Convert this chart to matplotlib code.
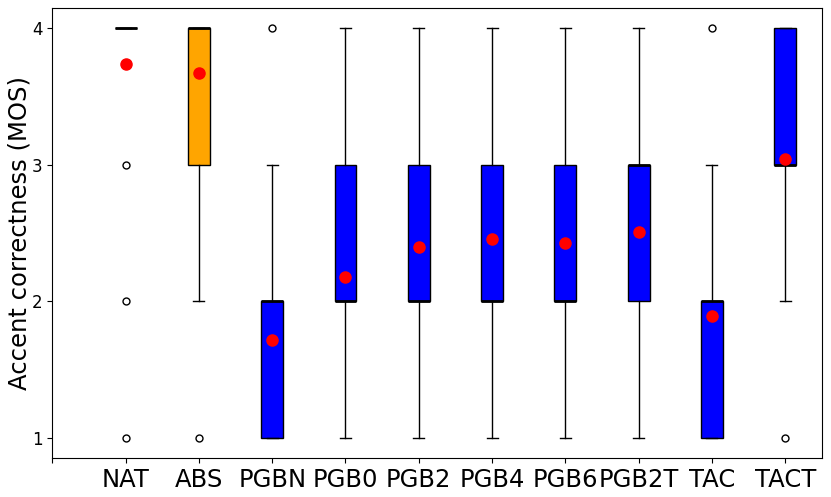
import numpy as np
import matplotlib
matplotlib.use('Agg')
import matplotlib.pyplot as plt

# systems and box statistics (MOS, 1-4 scale)
systems = ['NAT', 'ABS', 'PGBN', 'PGB0', 'PGB2', 'PGB4', 'PGB6', 'PGB2T', 'TAC', 'TACT']
q1 = [4, 3, 1, 2, 2, 2, 2, 2, 1, 3]
medians = [4, 4, 2, 2, 2, 2, 2, 3, 2, 3]
q3 = [4, 4, 2, 3, 3, 3, 3, 3, 2, 4]
whislo = [4, 2, 1, 1, 1, 1, 1, 1, 1, 2]
whishi = [4, 4, 3, 4, 4, 4, 4, 4, 3, 4]
fliers = [[1, 2, 3], [1], [4], [], [], [], [], [], [4], [1]]
means = [3.74, 3.67, 1.72, 2.18, 2.40, 2.46, 2.43, 2.51, 1.89, 3.04]
colors = ['blue', 'orange', 'blue', 'blue', 'blue', 'blue', 'blue', 'blue', 'blue', 'blue']

stats = []
for i in range(len(systems)):
    stats.append({'med': medians[i], 'q1': q1[i], 'q3': q3[i],
                  'whislo': whislo[i], 'whishi': whishi[i],
                  'fliers': fliers[i], 'mean': means[i], 'label': systems[i]})

fig, ax = plt.subplots(figsize=(8.31, 4.97), dpi=100)
fig.subplots_adjust(left=0.063, right=0.989, top=0.984, bottom=0.078)

bp = ax.bxp(stats, positions=range(1, len(systems) + 1), widths=0.3,
            patch_artist=True, showmeans=True,
            medianprops=dict(color='black', linewidth=2),
            meanprops=dict(marker='o', markerfacecolor='red', markeredgecolor='red', markersize=8),
            flierprops=dict(marker='o', markerfacecolor='none', markeredgecolor='black', markersize=5))

for patch, c in zip(bp['boxes'], colors):
    patch.set_facecolor(c)

ax.set_xticks(range(0, len(systems) + 1))
ax.set_xticklabels([''] + systems, fontsize=17.5)
ax.set_yticks([1, 2, 3, 4])
ax.tick_params(axis='y', labelsize=12)
ax.set_xlim(0, 10.5)
ax.set_ylabel('Accent correctness (MOS)', fontsize=17.5, labelpad=0.5)

plt.savefig('out.png')
